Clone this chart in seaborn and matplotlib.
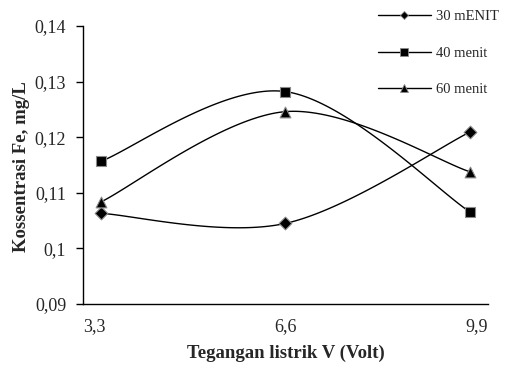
import numpy as np
import pandas as pd
import matplotlib
matplotlib.use("Agg")
import matplotlib.pyplot as plt
import seaborn as sns
from matplotlib.lines import Line2D

# ---- data ----
voltage = [3.6, 6.6, 9.6]
fe_30 = [0.1063, 0.1045, 0.1209]
fe_40 = [0.1157, 0.1282, 0.1066]
fe_60 = [0.1084, 0.1246, 0.1138]
series_names = ["30 mENIT", "40 menit", "60 menit"]
x_ticks = [3.3, 6.6, 9.9]
x_ticklabels = ["3,3", "6,6", "9,9"]
y_ticks = [0.09, 0.10, 0.11, 0.12, 0.13, 0.14]
y_ticklabels = ["0,09", "0,1", "0,11", "0,12", "0,13", "0,14"]

sns.set_theme(style="white")
plt.rcParams["font.family"] = ["Liberation Serif", "DejaVu Serif"]
plt.rcParams["axes.edgecolor"] = "black"
plt.rcParams["axes.linewidth"] = 1.0


def smooth(xs, ys, n=60):
    """Catmull-Rom style cubic Bezier smoothing (like Excel smoothed lines)."""
    P = np.column_stack([xs, ys]).astype(float)
    sx = 6.6
    sy = 0.05
    Q = P / [sx, sy]
    m = len(Q)
    out = []
    for i in range(m - 1):
        p0 = Q[i - 1] if i > 0 else Q[i]
        p1 = Q[i]
        p2 = Q[i + 1]
        p3 = Q[i + 2] if i + 2 < m else Q[i + 1]
        b1 = p1 + (p2 - p0) / 6.0
        b2 = p2 - (p3 - p1) / 6.0
        t = np.linspace(0, 1, n)[:, None]
        seg = ((1 - t) ** 3) * p1 + 3 * ((1 - t) ** 2) * t * b1 + 3 * (1 - t) * t ** 2 * b2 + t ** 3 * p2
        if i > 0:
            seg = seg[1:]
        out.append(seg)
    C = np.vstack(out) * [sx, sy]
    return C[:, 0], C[:, 1]


fig = plt.figure(figsize=(5.07, 3.70), dpi=100)
ax = fig.add_axes([83 / 507, 1 - 304 / 370, (488 - 83) / 507, (304 - 26) / 370])

markers = ["D", "s", "^"]
msizes = [42, 60, 60]
for name, vals, mk, ms in zip(series_names, [fe_30, fe_40, fe_60], markers, msizes):
    cx, cy = smooth(voltage, vals)
    sns.lineplot(x=cx, y=cy, ax=ax, color="black", linewidth=1.0, sort=False, estimator=None)
    sns.scatterplot(x=voltage, y=vals, ax=ax, marker=mk, s=ms, color="black",
                    edgecolor="#8a8a8a", linewidth=0.8, zorder=5)

ax.set_xlim(3.3, 9.9)
ax.set_ylim(0.09, 0.14)
ax.set_xticks(x_ticks)
ax.set_xticklabels(x_ticklabels, fontsize=13)
ax.set_yticks(y_ticks)
ax.set_yticklabels(y_ticklabels, fontsize=13)
tl = ax.get_xticklabels()
tl[0].set_horizontalalignment("left")
tl[-1].set_horizontalalignment("right")
ax.tick_params(axis="x", length=0, pad=10)
ax.tick_params(axis="y", length=5, width=1, direction="out", left=True, pad=7, color="black")
for s in ["top", "right"]:
    ax.spines[s].set_visible(False)

ax.set_xlabel("Tegangan listrik V (Volt)", fontsize=13.5, fontweight="bold")
ax.set_ylabel("Kossentrasi Fe, mg/L", fontsize=13.5, fontweight="bold")
ax.xaxis.set_label_coords(0.5, -0.145)
ax.yaxis.set_label_coords(-0.13, 0.496)

handles = [Line2D([0], [0], color="black", lw=1.0, marker=m, markersize=ms, markerfacecolor="black",
                  markeredgecolor="#8a8a8a", markeredgewidth=0.6)
           for m, ms in zip(markers, [4.5, 6, 6])]
leg = fig.legend(handles, series_names, loc="upper left",
                 bbox_to_anchor=(378 / 507, 1 - 10 / 370), frameon=False,
                 fontsize=10.5, handlelength=3.6, handletextpad=0.4,
                 labelspacing=1.6, borderpad=0, borderaxespad=0)

fig.savefig("out.png", dpi=100)
